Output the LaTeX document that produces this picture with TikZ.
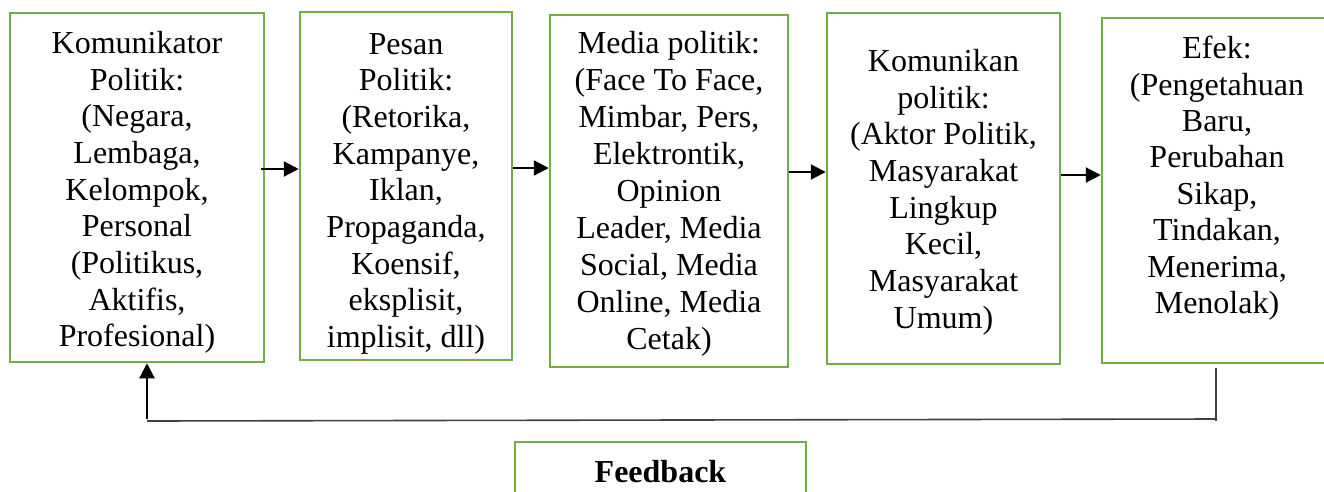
\documentclass[tikz,border=0pt]{standalone}
\usepackage{fontspec}
\setmainfont{Liberation Serif}
\usetikzlibrary{arrows.meta}
\definecolor{boxgreen}{HTML}{70AD47}
\definecolor{fbgray}{HTML}{404040}
\tikzset{
  box/.style={draw=boxgreen, line width=2.5pt, rectangle, inner sep=0pt},
  txt/.style={anchor=north, inner sep=0pt, align=center, font=\fontsize{32pt}{36.67pt}\selectfont},
  arr/.style={line width=2.2pt, -{Triangle[length=15pt,width=15pt]}},
  fbline/.style={line width=1.6pt, draw=fbgray}
}
\begin{document}
\begin{tikzpicture}[x=1pt,y=-1pt]
\path[use as bounding box, clip] (0,0) rectangle (1324,491);
% boxes
\node[box, minimum width=254pt, minimum height=349pt] (b1) at (137,187.5) {};
\node[box, minimum width=212pt, minimum height=348pt] (b2) at (406,186) {};
\node[box, minimum width=238pt, minimum height=352pt] (b3) at (669,191) {};
\node[box, minimum width=233pt, minimum height=351pt] (b4) at (943.5,188.5) {};
\node[box, minimum width=232pt, minimum height=345pt] (b5) at (1218,190.5) {};
\node[box, minimum width=291pt, minimum height=80pt] (fb) at (660.5,482) {};
% texts
\node[txt] (t1) at (137,31) {Komunikator\\Politik:\\(Negara,\\Lembaga,\\Kelompok,\\Personal\\(Politikus,\\Aktifis,\\Profesional)};
\node[txt] (t2) at (406,33) {Pesan\\Politik:\\(Retorika,\\Kampanye,\\Iklan,\\Propaganda,\\Koensif,\\eksplisit,\\implisit, dll)};
\node[txt, font=\fontsize{32pt}{37pt}\selectfont] (t3) at (669,31) {Media politik:\\(Face To Face,\\Mimbar, Pers,\\Elektrontik,\\Opinion\\Leader, Media\\Social, Media\\Online, Media\\Cetak)};
\node[txt] (t4) at (943.5,49) {Komunikan\\politik:\\(Aktor Politik,\\Masyarakat\\Lingkup\\Kecil,\\Masyarakat\\Umum)};
\node[txt, font=\fontsize{32pt}{36.4pt}\selectfont] (t5) at (1217,36) {Efek:\\(Pengetahuan\\Baru,\\Perubahan\\Sikap,\\Tindakan,\\Menerima,\\Menolak)};
\node[anchor=base, inner sep=0pt, font=\fontsize{32pt}{36pt}\selectfont\bfseries] (tf) at (660.5,482) {Feedback};
% arrows
\draw[arr] ([xshift=-4pt]b1.east |- 0,169) -- (b2.west |- 0,169);
\draw[arr] (b2.east |- 0,168) -- (b3.west |- 0,168);
\draw[arr] (b3.east |- 0,172) -- (b4.west |- 0,172);
\draw[arr] (b4.east |- 0,175) -- (b5.west |- 0,175);
% feedback loop
\coordinate (fbR) at (1216,419);
\coordinate (fbL) at (147,421);
\draw[fbline, line width=2pt] ([yshift=-4pt]b5.south -| fbR) -- ([yshift=-2pt]fbR);
\draw[fbline] (fbR) -- (fbL);
\draw[arr] ([yshift=2pt]fbL) -- (b1.south -| fbL);
\end{tikzpicture}
\end{document}
